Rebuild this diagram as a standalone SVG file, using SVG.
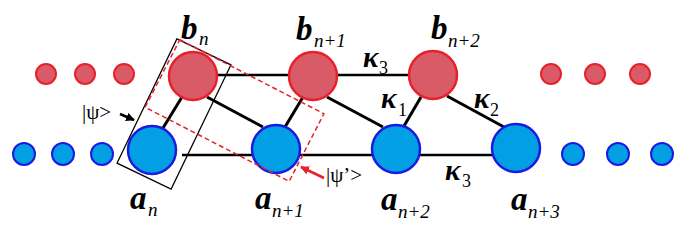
<svg xmlns="http://www.w3.org/2000/svg" width="682" height="229" viewBox="0 0 682 229">
<defs>
<style>
.red{fill:#d95b68;stroke:#e8202a;stroke-width:2.5}
.blue{fill:#039fe4;stroke:#1a1ae0;stroke-width:2.5}
.rs{fill:#d95b68;stroke:#e8202a;stroke-width:2}
.bs{fill:#039fe4;stroke:#1a1ae0;stroke-width:2}
.ln{stroke:#000;stroke-width:3;fill:none}
.hl{stroke:#000;stroke-width:2.5;fill:none}
.main{font-family:"Liberation Serif",serif;font-style:italic;font-weight:bold;font-size:33px;fill:#000}
.sub{font-family:"Liberation Serif",serif;font-style:italic;font-size:19px;fill:#000}
.kap{font-family:"Liberation Serif",serif;font-style:italic;font-weight:bold;font-size:29px;fill:#000}
.ksub{font-family:"Liberation Serif",serif;font-size:18px;fill:#000}
.psi{font-family:"Liberation Serif",serif;font-size:21px;fill:#000}
</style>
<marker id="ahk" viewBox="0 0 10 10" refX="9" refY="5" markerWidth="3.5" markerHeight="3.5" orient="auto"><path d="M0,0 L10,5 L0,10 z" fill="#000"/></marker>
<marker id="ahr" viewBox="0 0 10 10" refX="9" refY="5" markerWidth="3.5" markerHeight="3.5" orient="auto"><path d="M0,0 L10,5 L0,10 z" fill="#e8202a"/></marker>
</defs>
<rect width="682" height="229" fill="#fff"/>
<g id="connectors">
<line class="hl" x1="217" y1="75" x2="433" y2="75"/>
<line class="hl" x1="182" y1="155" x2="516" y2="155"/>
<line class="ln" x1="182" y1="97" x2="163" y2="128"/>
<line class="ln" x1="207" y1="97" x2="263" y2="127"/>
<line class="ln" x1="303" y1="97" x2="285" y2="127"/>
<line class="ln" x1="327" y1="97" x2="383" y2="127"/>
<line class="ln" x1="421" y1="97" x2="404" y2="126"/>
<line class="ln" x1="447" y1="96" x2="504" y2="127"/>
</g>
<g id="dots-left">
<circle class="rs" cx="46" cy="74" r="10"/>
<circle class="rs" cx="85" cy="74" r="10"/>
<circle class="rs" cx="124" cy="74" r="10"/>
<circle class="bs" cx="24" cy="154" r="11"/>
<circle class="bs" cx="63" cy="154" r="11"/>
<circle class="bs" cx="102" cy="154" r="11"/>
</g>
<g id="dots-right">
<circle class="rs" cx="551" cy="74" r="10"/>
<circle class="rs" cx="595" cy="74" r="10"/>
<circle class="rs" cx="640" cy="74" r="10"/>
<circle class="bs" cx="573" cy="154" r="11"/>
<circle class="bs" cx="618" cy="154" r="11"/>
<circle class="bs" cx="662" cy="154" r="11"/>
</g>
<g id="bn"><circle class="red" cx="193" cy="76" r="24"/><text class="main" x="181" y="39">b</text><text class="sub" x="199" y="45">n</text></g>
<g id="bn1"><circle class="red" cx="313" cy="76" r="24"/><text class="main" x="296" y="40">b</text><text class="sub" x="314" y="47">n+1</text></g>
<g id="bn2"><circle class="red" cx="433" cy="75" r="24"/><text class="main" x="431" y="39">b</text><text class="sub" x="448" y="47">n+2</text></g>
<g id="an"><circle class="blue" cx="152" cy="150" r="24"/><text class="main" x="130" y="209">a</text><text class="sub" x="148" y="216">n</text></g>
<g id="an1"><circle class="blue" cx="276" cy="149" r="24"/><text class="main" x="255" y="209">a</text><text class="sub" x="272" y="217">n+1</text></g>
<g id="an2"><circle class="blue" cx="396" cy="149" r="24"/><text class="main" x="381" y="210">a</text><text class="sub" x="398" y="218">n+2</text></g>
<g id="an3"><circle class="blue" cx="516" cy="148" r="24"/><text class="main" x="511" y="210">a</text><text class="sub" x="528" y="218">n+3</text></g>
<g id="kappas">
<text class="kap" x="363" y="67">κ</text><text class="ksub" x="379" y="74">3</text>
<text class="kap" x="381" y="108">κ</text><text class="ksub" x="398" y="116">1</text>
<text class="kap" x="474" y="108">κ</text><text class="ksub" x="490" y="116">2</text>
<text class="kap" x="445" y="180">κ</text><text class="ksub" x="462" y="187">3</text>
</g>
<g id="psi-box">
<rect x="-30" y="-69" width="60" height="138" transform="translate(174,114) rotate(25.7)" fill="none" stroke="#000" stroke-width="1.3"/>
<text class="psi" x="82" y="119">|ψ&gt;</text>
<line x1="120" y1="114" x2="134" y2="120" stroke="#000" stroke-width="2.5" marker-end="url(#ahk)"/>
</g>
<g id="psi-prime-box">
<rect x="-81" y="-38" width="162" height="76" transform="translate(234.5,110.5) rotate(27.2)" fill="none" stroke="#e8202a" stroke-width="1.5" stroke-dasharray="5,3"/>
<text class="psi" x="326" y="182">|ψ’&gt;</text>
<line x1="324" y1="178" x2="301" y2="167" stroke="#e8202a" stroke-width="2.5" marker-end="url(#ahr)"/>
</g>
</svg>
